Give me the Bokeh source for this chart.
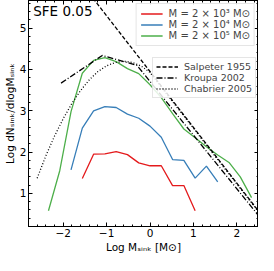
from bokeh.plotting import figure
from bokeh.models import (Range1d, LinearAxis, Legend, LegendItem, Label,
                          FixedTicker, CustomJSTickFormatter)
from bokeh.embed import file_html
from bokeh.resources import INLINE

# ---- data ----
log_m_red = [-1.56, -1.30, -1.04, -0.78, -0.52, -0.26, 0.00, 0.26, 0.52, 0.78, 1.04]
dn_red = [1.36, 1.95, 1.96, 2.01, 1.94, 1.74, 1.67, 1.67, 1.19, 1.19, 0.58]

log_m_blue = [-1.82, -1.56, -1.30, -1.04, -0.78, -0.52, -0.26, 0.00, 0.26, 0.52,
              0.78, 1.04, 1.30, 1.56]
dn_blue = [1.57, 2.58, 3.00, 3.10, 3.08, 2.92, 2.82, 2.63, 2.36, 1.82,
           1.80, 1.37, 1.66, 1.28]

log_m_green = [-2.34, -2.08, -1.82, -1.56, -1.30, -1.04, -0.78, -0.52, -0.26, 0.00,
               0.26, 0.52, 0.78, 1.04, 1.30, 1.56, 1.82, 2.08, 2.34]
dn_green = [0.58, 1.55, 2.98, 3.91, 4.22, 4.29, 4.19, 4.02, 3.90, 3.63,
            3.32, 2.93, 2.56, 2.35, 2.13, 1.93, 1.75, 1.40, 0.90]

log_m_salpeter = [-1.40, 2.60]
dn_salpeter = [5.84, 0.44]

log_m_kroupa = [-2.05, -1.10, -0.30, 2.55]
dn_kroupa = [3.67, 4.34, 4.10, 0.40]

log_m_chabrier = [-2.60, -2.40, -2.20, -2.00, -1.80, -1.60, -1.40, -1.20, -1.00, -0.80,
                  -0.60, -0.40, -0.20, 0.00, 0.50, 1.00, 1.50, 2.00, 2.55]
dn_chabrier = [1.37, 1.91, 2.39, 2.81, 3.18, 3.49, 3.75, 3.95, 4.09, 4.17,
               4.20, 4.17, 4.08, 3.93, 3.25, 2.58, 1.90, 1.23, 0.49]

x_ticks = [-2, -1, 0, 1, 2]
y_ticks = [1, 2, 3, 4, 5]

labels_sim = ["M = 2 × 10³ M⊙", "M = 2 × 10⁴ M⊙", "M = 2 × 10⁵ M⊙"]
labels_imf = ["Salpeter 1955", "Kroupa 2002", "Chabrier 2005"]
colors = ["#e41a1c", "#377eb8", "#4daf4a"]

FONT = "DejaVu Sans"
X0, X1, Y0, Y1 = -2.8, 2.5, 0.2, 5.67
x_minor = [round(X0 + 0.2 * i, 2) for i in range(27)]
y_minor = [round(Y0 + 0.2 * i, 2) for i in range(28)]

p = figure(width=258, height=255, x_range=Range1d(X0, X1), y_range=Range1d(Y0, Y1),
           output_backend="svg", toolbar_location=None,
           min_border_left=0, min_border_right=0, min_border_top=0, min_border_bottom=0)
p.grid.visible = False
p.outline_line_color = "black"
p.background_fill_color = "white"

minus_fmt = "return String(tick).replace('-', '\\u2212');"

for ax in (p.xaxis[0], p.yaxis[0]):
    ax.major_tick_in = 4
    ax.major_tick_out = 0
    ax.minor_tick_in = 2
    ax.minor_tick_out = 0
    ax.major_label_text_font = FONT
    ax.major_label_text_font_size = "10.5px"
    ax.major_label_text_color = "black"
    ax.axis_label_text_font = FONT
    ax.axis_label_text_font_size = "10.5px"
    ax.axis_label_text_font_style = "normal"
    ax.axis_label_text_color = "black"
    ax.major_label_standoff = 2
    ax.axis_label_standoff = 1
    ax.axis_line_color = "black"
    ax.formatter = CustomJSTickFormatter(code=minus_fmt)

p.xaxis[0].ticker = FixedTicker(ticks=x_ticks, minor_ticks=x_minor)
p.yaxis[0].ticker = FixedTicker(ticks=y_ticks, minor_ticks=y_minor)
p.xaxis[0].axis_label = "Log Mₛᵢₙₖ [M⊙]"
p.yaxis[0].axis_label = "Log dNₛᵢₙₖ/dlogMₛᵢₙₖ"

for loc, ticks, minors in (("above", x_ticks, x_minor), ("right", y_ticks, y_minor)):
    ax = LinearAxis(ticker=FixedTicker(ticks=ticks, minor_ticks=minors),
                    formatter=CustomJSTickFormatter(code="return '';"),
                    major_tick_in=4, major_tick_out=0, minor_tick_in=2, minor_tick_out=0,
                    major_label_standoff=0, major_label_text_font_size="1px",
                    axis_line_color="black")
    p.add_layout(ax, loc)

r_red = p.line(log_m_red, dn_red, line_color=colors[0], line_width=1.3)
r_blue = p.line(log_m_blue, dn_blue, line_color=colors[1], line_width=1.3)
r_green = p.line(log_m_green, dn_green, line_color=colors[2], line_width=1.3)

r_sal = p.line(log_m_salpeter, dn_salpeter, line_color="black", line_width=1.3, line_dash="4 2")
r_kro = p.line(log_m_kroupa, dn_kroupa, line_color="black", line_width=1.3, line_dash="6 2 1 2")
r_cha = p.line(log_m_chabrier, dn_chabrier, line_color="black", line_width=1.3, line_dash="1 2")

def style(leg, fs, pad):
    leg.label_text_font = FONT
    leg.label_text_font_size = fs
    leg.border_line_color = "#cccccc"
    leg.border_line_width = 1
    leg.background_fill_alpha = 0.85
    leg.padding = pad
    leg.spacing = 0
    leg.margin = 3
    leg.label_height = 9
    leg.glyph_height = 9
    leg.glyph_width = 22
    leg.label_standoff = 6

leg1 = Legend(items=[LegendItem(label=labels_sim[0], renderers=[r_red]),
                     LegendItem(label=labels_sim[1], renderers=[r_blue]),
                     LegendItem(label=labels_sim[2], renderers=[r_green])],
              location="top_right")
style(leg1, "10px", 4)
p.add_layout(leg1)

leg2 = Legend(items=[LegendItem(label=labels_imf[0], renderers=[r_sal]),
                     LegendItem(label=labels_imf[1], renderers=[r_kro]),
                     LegendItem(label=labels_imf[2], renderers=[r_cha])],
              location=(124, 128))
style(leg2, "9.5px", 3)
p.add_layout(leg2)

title = Label(x=-2.69, y=5.41, text="SFE 0.05", text_font=FONT, text_font_size="13.5px",
              text_baseline="middle", text_align="left", text_color="black")
p.add_layout(title)

open("out.html", "w").write(file_html(p, INLINE))
